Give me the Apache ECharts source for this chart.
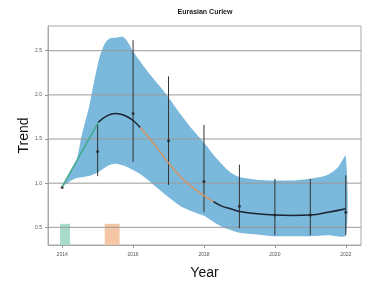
<!DOCTYPE html>
<html>
<head>
<meta charset="utf-8">
<script src="https://cdn.jsdelivr.net/npm/echarts@6/dist/echarts.min.js"></script>
<style>
  html, body { margin: 0; padding: 0; background: #fff; }
  #chart { width: 367px; height: 285px; }
</style>
</head>
<body>
<div id="chart"></div>
<script>
const xTicks = [2014, 2016, 2018, 2020, 2022];
const yTicks = [0.5, 1.0, 1.5, 2.0, 2.5];

// fitted trend, split into coloured stretches
const trendGreen = [[2014, 0.96], [2015.02, 1.69]];
const trendBlackA = [[2015.02, 1.69], [2015.25, 1.76], [2015.5, 1.79], [2015.75, 1.77], [2016, 1.71], [2016.2, 1.63]];
const trendOrange = [[2016.2, 1.63], [2016.5, 1.49], [2016.75, 1.36], [2017, 1.23], [2017.25, 1.11], [2017.5, 1.01], [2017.75, 0.93], [2018, 0.86], [2018.27, 0.79]];
const trendBlackB = [[2018.27, 0.79], [2018.5, 0.74], [2018.75, 0.71], [2019, 0.68], [2019.5, 0.655], [2020, 0.64], [2020.5, 0.635], [2021, 0.64], [2021.5, 0.67], [2022, 0.71]];

// confidence band
const bandUpper = [[2014, 0.96], [2014.2, 1.1], [2014.4, 1.25], [2014.55, 1.54], [2014.75, 1.85], [2014.9, 2.15], [2015.05, 2.42], [2015.2, 2.58], [2015.35, 2.64], [2015.55, 2.65], [2015.7, 2.66], [2015.85, 2.6], [2016, 2.49], [2016.25, 2.35], [2016.5, 2.22], [2016.75, 2.1], [2017, 1.97], [2017.34, 1.78], [2017.67, 1.61], [2018, 1.46], [2018.25, 1.33], [2018.54, 1.2], [2018.75, 1.12], [2019, 1.07], [2019.5, 1.04], [2020, 1.03], [2020.5, 1.03], [2021, 1.05], [2021.4, 1.08], [2021.6, 1.12], [2021.8, 1.19], [2022, 1.31]];
const bandLower = [[2014, 0.96], [2014.35, 1.05], [2014.75, 1.08], [2015, 1.12], [2015.3, 1.2], [2015.5, 1.22], [2015.8, 1.19], [2016, 1.15], [2016.25, 1.09], [2016.67, 0.95], [2017, 0.84], [2017.34, 0.74], [2017.67, 0.68], [2018, 0.63], [2018.27, 0.56], [2018.54, 0.5], [2018.75, 0.47], [2019, 0.44], [2019.5, 0.42], [2020, 0.4], [2020.5, 0.4], [2021, 0.4], [2021.5, 0.41], [2022, 0.41]];

// yearly estimates: [year, low, high, estimate]
const yearly = [
  [2014, 0.95, 0.95, 0.95],
  [2015, 1.08, 1.67, 1.36],
  [2016, 1.24, 2.62, 1.79],
  [2017, 0.98, 2.21, 1.48],
  [2018, 0.67, 1.66, 1.02],
  [2019, 0.49, 1.21, 0.74],
  [2020, 0.41, 1.05, 0.64],
  [2021, 0.41, 1.05, 0.64],
  [2022, 0.41, 1.09, 0.67]
];

// shaded periods: [start, end, top]
const periods = [[2013.94, 2014.22, 0.54], [2015.2, 2015.62, 0.54]];
const periodColors = ['#a6dcc8', '#f4c6a4'];

const X_MIN = 2013.6, X_MAX = 2022.43, Y_MIN = 0.3, Y_MAX = 2.78;

const chart = echarts.init(document.getElementById('chart'));

const lineSeries = (data, color) => ({
  type: 'line',
  data: data,
  smooth: true,
  symbol: 'none',
  lineStyle: { color: color, width: 1.5 },
  z: 5
});

chart.setOption({
  animation: false,
  graphic: [{
    type: 'text',
    x: 205,
    y: 12.5,
    style: {
      text: 'Eurasian Curlew',
      align: 'center',
      verticalAlign: 'middle',
      fontSize: 7,
      fontWeight: 'bold',
      fill: '#222',
      fontFamily: 'Liberation Sans'
    }
  }],
  grid: { left: 48, right: 6, top: 26, bottom: 39, show: true, borderColor: '#aaa', borderWidth: 1 },
  xAxis: {
    type: 'value',
    min: X_MIN,
    max: X_MAX,
    name: 'Year',
    nameLocation: 'middle',
    nameGap: 21,
    nameMoveOverlap: false,
    nameTextStyle: { fontSize: 14, color: '#111', fontFamily: 'Liberation Sans' },
    axisLine: { show: true, lineStyle: { color: '#aaa' } },
    axisTick: { show: true, length: 3, customValues: xTicks, lineStyle: { color: '#999' } },
    axisLabel: { customValues: xTicks, fontSize: 5, color: '#555', margin: 7, formatter: v => String(v) },
    splitLine: { show: false }
  },
  yAxis: {
    type: 'value',
    min: Y_MIN,
    max: Y_MAX,
    name: 'Trend',
    nameLocation: 'middle',
    nameGap: 17,
    nameMoveOverlap: false,
    nameTextStyle: { fontSize: 14, color: '#111', fontFamily: 'Liberation Sans' },
    axisLine: { show: true, lineStyle: { color: '#aaa' } },
    axisTick: { show: true, length: 3, customValues: yTicks, lineStyle: { color: '#999' } },
    axisLabel: { customValues: yTicks, fontSize: 5, color: '#555', margin: 6, formatter: v => v.toFixed(1) },
    splitLine: { show: false }
  },
  series: [
    {
      // confidence band polygon
      type: 'custom',
      data: [0],
      z: 1,
      renderItem: (params, api) => {
        const pts = bandUpper.map(p => api.coord(p))
          .concat(bandLower.slice().reverse().map(p => api.coord(p)));
        return {
          type: 'polygon',
          shape: { points: pts, smooth: 0.25 },
          style: { fill: '#7ab8dc' }
        };
      }
    },
    {
      // shaded periods
      type: 'custom',
      data: periods,
      z: 2,
      renderItem: (params, api) => {
        const p = periods[params.dataIndex];
        const a = api.coord([p[0], p[2]]);
        const b = api.coord([p[1], Y_MIN]);
        return {
          type: 'rect',
          shape: { x: a[0], y: a[1], width: b[0] - a[0], height: b[1] - a[1] },
          style: { fill: periodColors[params.dataIndex] }
        };
      }
    },
    {
      // horizontal grid lines
      type: 'custom',
      data: yTicks,
      z: 3,
      renderItem: (params, api) => {
        const v = yTicks[params.dataIndex];
        const a = api.coord([X_MIN, v]);
        const b = api.coord([X_MAX, v]);
        return {
          type: 'line',
          shape: { x1: a[0], y1: a[1], x2: b[0], y2: b[1] },
          style: { stroke: '#9a9a9a', lineWidth: 1 }
        };
      }
    },
    {
      // error bars
      type: 'custom',
      data: yearly,
      z: 4,
      renderItem: (params, api) => {
        const d = yearly[params.dataIndex];
        const lo = api.coord([d[0], d[1]]);
        const hi = api.coord([d[0], d[2]]);
        return {
          type: 'line',
          shape: { x1: lo[0], y1: lo[1], x2: hi[0], y2: hi[1] },
          style: { stroke: '#333', lineWidth: 1 }
        };
      }
    },
    lineSeries(trendGreen, '#3fa98a'),
    lineSeries(trendBlackA, '#1c2433'),
    lineSeries(trendOrange, '#d49462'),
    lineSeries(trendBlackB, '#1c2433'),
    {
      type: 'scatter',
      data: yearly.map(d => [d[0], d[3]]),
      symbolSize: 3,
      itemStyle: { color: '#222' },
      z: 6
    }
  ]
});
</script>
</body>
</html>
